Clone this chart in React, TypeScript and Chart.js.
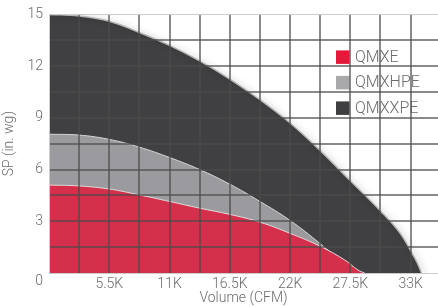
import { useEffect, useRef } from 'react';
import { Chart, registerables } from 'chart.js';

Chart.register(...registerables);

// ---- data ----
const seriesNames = ['QMXE', 'QMXHPE', 'QMXXPE'];

const qmxeVolume = [0, 2750, 5500, 8250, 11000, 13750, 16500, 19250, 22000, 24750, 27000, 28200, 28800];
const qmxeSP = [5.1, 5.05, 4.87, 4.53, 4.15, 3.76, 3.4, 2.95, 2.3, 1.55, 0.75, 0.17, 0];

const qmxhpeVolume = [0, 2750, 5500, 8250, 11000, 13750, 16500, 19250, 22000, 24750, 26500, 27600];
const qmxhpeSP = [8.05, 8.0, 7.75, 7.3, 6.7, 6.0, 5.15, 4.15, 3.05, 1.7, 0.7, 0];

const qmxxpeVolume = [0, 2750, 5500, 8250, 11000, 13750, 16500, 19250, 22000, 24750, 27500, 30250, 32000, 33000, 33600, 34000];
const qmxxpeSP = [15, 14.9, 14.6, 13.95, 13.2, 12.3, 11.25, 10.05, 8.7, 7.1, 5.35, 3.6, 2.35, 1.3, 0.6, 0];

// x grid positions and which of them carry a label
const xGridValues = [0, 2750, 5500, 8250, 11000, 13750, 16500, 19250, 22000, 24750, 27500, 30250, 33000];
const xTickLabels: Record<number, string> = {
  5500: '5.5K', 11000: '11K', 16500: '16.5K', 22000: '22K', 27500: '27.5K', 33000: '33K',
};
const yTickLabels: Record<number, string> = { 3: '3', 6: '6', 9: '9', 12: '12', 15: '15' };

const fillColors = ['#d5304b', '#9b9b9f', '#404043'];
const legendColors = ['#e6193a', '#a9a9ac', '#3f3f42'];
const edgeColors = ['#dcdcdc', '#d6d6d6', '#b8b8b8'];

const xMax = 35500;
const yMax = 15;
const yGridStep = 1.5;

const tickFont = { family: 'Roboto', size: 14, weight: '300' as any };
const textColor = '#6b6b6b';
const gridColor = 'rgba(75,75,75,0.65)';

const shadowPlugin = {
  id: 'areaShadow',
  beforeDatasetDraw(chart: any, args: any) {
    if (args.index === 2) {
      const c = chart.ctx;
      c.save();
      c.shadowColor = 'rgba(0,0,0,0.35)';
      c.shadowBlur = 6;
      c.shadowOffsetX = 2;
      c.shadowOffsetY = 1;
    }
  },
  afterDatasetDraw(chart: any, args: any) {
    if (args.index === 2) chart.ctx.restore();
  },
};

const legendPlugin = {
  id: 'innerLegend',
  afterDatasetsDraw(chart: any) {
    const { ctx, chartArea } = chart;
    ctx.save();
    ctx.font = '300 16px Roboto';
    ctx.textBaseline = 'middle';
    ctx.textAlign = 'left';
    chart.data.datasets.forEach((ds: any, i: number) => {
      const bx = chartArea.right - 102;
      const by = chartArea.top + 36 + i * 25.5;
      ctx.fillStyle = legendColors[i];
      ctx.fillRect(bx, by, 13.5, 13.5);
      ctx.fillStyle = textColor;
      ctx.fillText(ds.label, bx + 19, by + 7.5);
    });
    ctx.restore();
  },
};

export default function App() {
  const ref = useRef<HTMLCanvasElement>(null);

  useEffect(() => {
    document.body.style.margin = '0';
    const pts = (xs: number[], ys: number[]) => xs.map((x, i) => ({ x, y: ys[i] }));
    const all = [
      pts(qmxeVolume, qmxeSP),
      pts(qmxhpeVolume, qmxhpeSP),
      pts(qmxxpeVolume, qmxxpeSP),
    ];
    const chart = new Chart(ref.current!, {
      type: 'line',
      data: {
        datasets: all.map((d, i) => ({
          label: seriesNames[i],
          data: d,
          fill: 'origin',
          backgroundColor: fillColors[i],
          borderColor: edgeColors[i],
          borderWidth: i === 2 ? 1.5 : 1,
          pointRadius: 0,
          tension: 0.4,
        })),
      },
      options: {
        responsive: false,
        animation: false,
        layout: { padding: { top: 13, right: 0, left: 0, bottom: 0 } },
        plugins: { legend: { display: false }, tooltip: { enabled: false } },
        scales: {
          x: {
            type: 'linear',
            min: 0,
            max: xMax,
            afterBuildTicks: (s: any) => {
              s.ticks = xGridValues.map((value) => ({ value }));
            },
            afterFit: (s: any) => {
              s.height = 34;
            },
            grid: {
              z: 1,
              color: (c: any) => (c.tick && c.tick.value === 0 ? 'rgba(0,0,0,0)' : gridColor),
              lineWidth: 2,
              drawTicks: false,
            },
            border: { color: '#cccccc', width: 1, z: 2 },
            ticks: {
              autoSkip: false,
              maxRotation: 0,
              padding: 3,
              color: textColor,
              font: tickFont,
              callback: (v: any) => xTickLabels[Number(v)] || '',
            },
            title: { display: true, text: 'Volume (CFM)', color: textColor, font: tickFont, padding: 0 },
          },
          y: {
            min: 0,
            max: yMax,
            afterFit: (s: any) => {
              s.width = 49;
            },
            grid: {
              z: 1,
              color: (c: any) => {
                const v = c.tick ? c.tick.value : -1;
                if (v === 0) return 'rgba(0,0,0,0)';
                if (v === yMax) return '#cccccc';
                return gridColor;
              },
              lineWidth: (c: any) => (c.tick && c.tick.value === yMax ? 1 : 2),
              drawTicks: false,
            },
            border: { color: '#cccccc', width: 1, z: 2 },
            ticks: {
              stepSize: yGridStep,
              autoSkip: false,
              padding: 6,
              color: textColor,
              font: tickFont,
              callback: (v: any) => {
                const n = Number(v);
                if (n === 0) return ['', '0'];
                return yTickLabels[n] || '';
              },
            },
            title: { display: true, text: 'SP (in. wg)', color: textColor, font: tickFont, padding: { top: 1, bottom: 0 } },
          },
        },
      } as any,
      plugins: [shadowPlugin, legendPlugin],
    });
    return () => chart.destroy();
  }, []);

  return (
    <canvas
      ref={ref}
      width={438}
      height={307}
      style={{ position: 'absolute', left: 0, top: 0, width: 438, height: 307 }}
    />
  );
}
